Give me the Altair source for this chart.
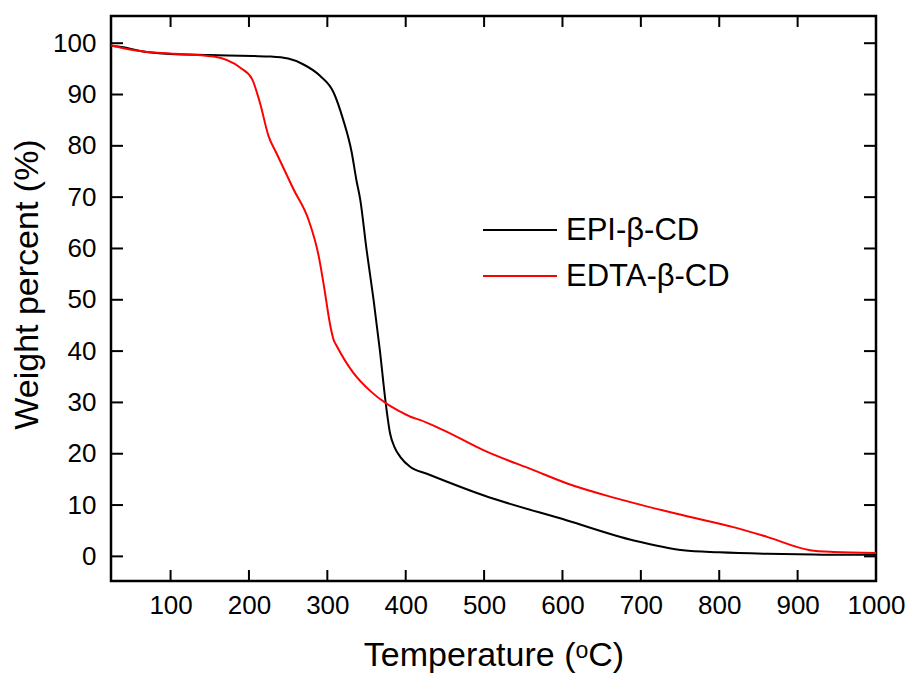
import altair as alt
import pandas as pd

# ---- data ----
epi_T = [24, 40, 61, 100, 150, 205, 227, 250, 269, 291, 308, 320, 331, 337, 342, 350, 359, 367, 374, 380,
         386, 393, 406, 427, 499, 606, 691, 754, 800, 861, 920, 988, 1000]
epi_w = [99.5, 99.2, 98.5, 97.9, 97.7, 97.5, 97.4, 97.0, 95.9, 93.6, 90.4, 85.2, 78.8, 73.4, 69.5, 59.8, 50.0, 40.2, 30.5, 24.0,
         21.2, 19.4, 17.4, 16.1, 11.9, 7.0, 3.1, 1.2, 0.8, 0.5, 0.35, 0.3, 0.3]

edta_T = [24, 40, 70, 99, 155, 189, 204, 214, 225, 235, 257, 276, 289, 295, 304, 308, 312, 333, 355, 376, 393,
          406, 418, 448, 499, 563, 606, 669, 754, 818, 861, 916, 946, 1000]
edta_w = [99.6, 99.0, 98.3, 98.0, 97.4, 95.2, 93.0, 88.4, 81.9, 78.6, 71.5, 65.6, 58.5, 53.3, 44.8, 42.2, 41.0, 35.8, 32.2, 29.7, 28.2,
          27.2, 26.6, 24.6, 20.7, 16.8, 14.2, 11.3, 8.0, 5.7, 3.8, 1.2, 0.85, 0.65]

series_names = ["EPI-β-CD", "EDTA-β-CD"]
series_colors = ["#000000", "#ff0000"]

x_ticks = [100, 200, 300, 400, 500, 600, 700, 800, 900, 1000]
y_ticks = [0, 10, 20, 30, 40, 50, 60, 70, 80, 90, 100]

x_domain = [24, 1000]
y_domain = [-4.8, 105.3]

W, H = 765, 565
FONT = "Liberation Sans"

df = pd.concat([
    pd.DataFrame({"T": epi_T, "w": epi_w, "series": series_names[0], "order": range(len(epi_T))}),
    pd.DataFrame({"T": edta_T, "w": edta_w, "series": series_names[1], "order": range(len(edta_T))}),
])
xt = pd.DataFrame({"t": x_ticks})
yt = pd.DataFrame({"t": y_ticks})
leg = pd.DataFrame({"series": series_names})

xscale = alt.Scale(domain=x_domain, nice=False, zero=False)
yscale = alt.Scale(domain=y_domain, nice=False, zero=False)
cscale = alt.Scale(domain=series_names, range=series_colors)

lines = alt.Chart(df).mark_line(strokeWidth=2, interpolate="monotone").encode(
    x=alt.X("T:Q", scale=xscale,
            axis=alt.Axis(title="Temperature (ᵒC)", values=x_ticks, format="d", tickSize=0, domain=False, grid=False,
                          labelFontSize=26, labelFont=FONT, labelColor="#000", labelPadding=11,
                          titleFontSize=34, titleFont=FONT, titleFontWeight="normal", titleColor="#000",
                          titlePadding=20, labelFlush=False)),
    y=alt.Y("w:Q", scale=yscale,
            axis=alt.Axis(title="Weight percent (%)", values=y_ticks, format="d", tickSize=0, domain=False, grid=False,
                          labelFontSize=26, labelFont=FONT, labelColor="#000", labelPadding=15,
                          titleFontSize=34, titleFont=FONT, titleFontWeight="normal", titleColor="#000",
                          titlePadding=8, titleY=268)),
    color=alt.Color("series:N", scale=cscale, legend=None),
    order="order:Q",
)

bx_ticks = alt.Chart(xt).mark_rule(color="#000", strokeWidth=2).encode(
    x=alt.X("t:Q", scale=xscale), y=alt.value(H), y2=alt.value(H - 11))
tx_ticks = alt.Chart(xt).mark_rule(color="#000", strokeWidth=2).encode(
    x=alt.X("t:Q", scale=xscale), y=alt.value(0), y2=alt.value(11))
ly_ticks = alt.Chart(yt).mark_rule(color="#000", strokeWidth=2).encode(
    y=alt.Y("t:Q", scale=yscale), x=alt.value(0), x2=alt.value(12))
ry_ticks = alt.Chart(yt).mark_rule(color="#000", strokeWidth=2).encode(
    y=alt.Y("t:Q", scale=yscale), x=alt.value(W), x2=alt.value(W - 12))

main = alt.layer(lines, bx_ticks, tx_ticks, ly_ticks, ry_ticks)

# legend built from the series list
legy = alt.Y("series:N", scale=alt.Scale(type="point", domain=series_names, range=[214, 260], padding=0),
             axis=None)
leg_lines = alt.Chart(leg).mark_rule(strokeWidth=2).encode(
    x=alt.value(372), x2=alt.value(446), y=legy,
    color=alt.Color("series:N", scale=cscale, legend=None))
leg_text = alt.Chart(leg).mark_text(align="left", baseline="middle", font=FONT, fontSize=31,
                                    color="#000", dy=1).encode(
    x=alt.value(455), y=legy, text="series:N")
legend = alt.layer(leg_lines, leg_text)

chart = alt.layer(main, legend).resolve_scale(y="independent").properties(
    width=W, height=H,
    autosize=alt.AutoSizeParams(type="none"),
    padding={"left": 111, "top": 16, "right": 34, "bottom": 94},
    background="white",
).configure_view(stroke="#000", strokeWidth=2.5)

chart.save("out.html", embed_options={"renderer": "svg", "actions": False})
